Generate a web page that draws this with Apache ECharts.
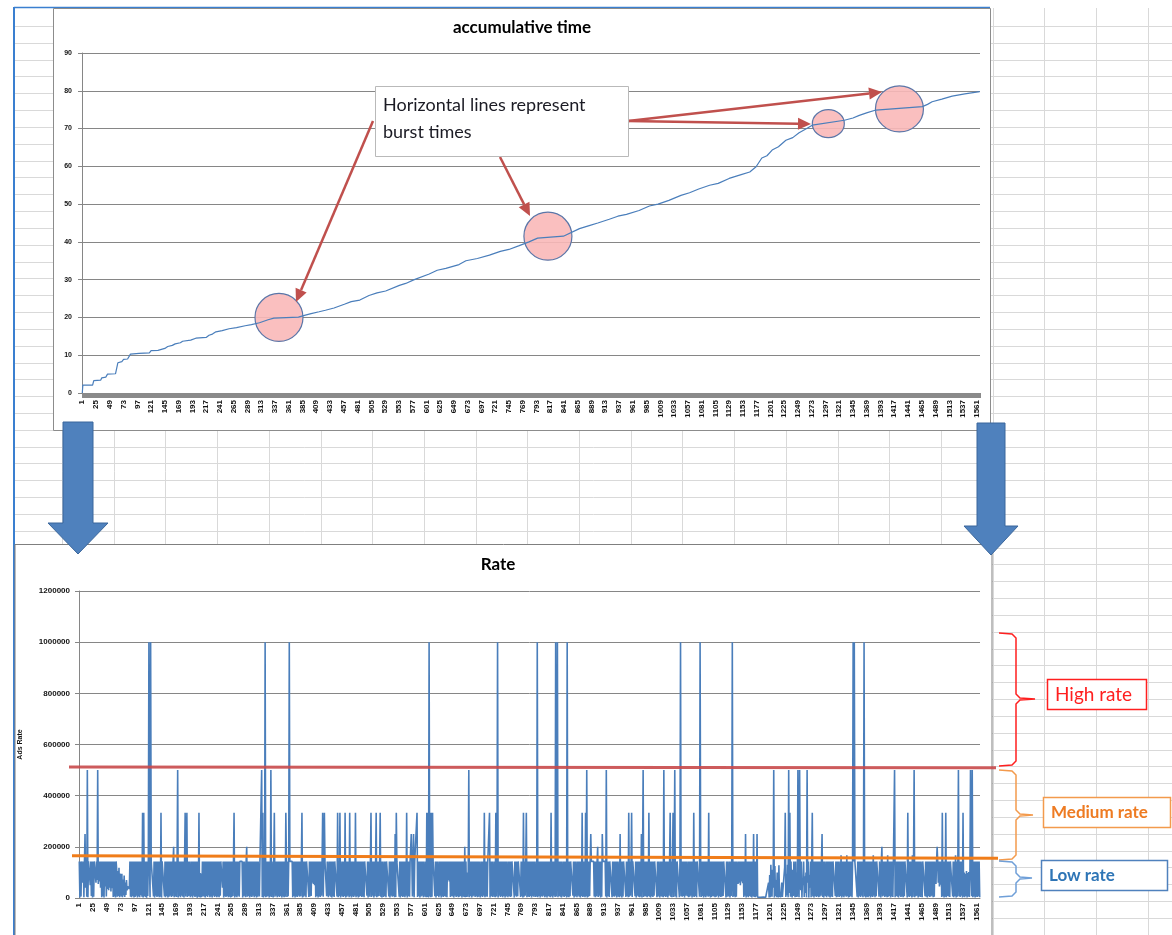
<!DOCTYPE html>
<html>
<head>
<meta charset="utf-8">
<script src="https://cdn.jsdelivr.net/npm/echarts@6/dist/echarts.min.js"></script>
<style>
  html, body { margin: 0; padding: 0; background: #ffffff; }
  #main { width: 1172px; height: 935px; }
</style>
</head>
<body>
<div id="main"></div>
<script>
// Samples 1..N on both category axes
const N = 1566;
const xCategories = Array.from({ length: N }, (_, k) => String(k + 1));

// Accumulated time: breakpoints of the curve (sample number, value)
const cumIdx = [1, 2, 19, 21, 33, 35, 42, 45, 59, 63, 70, 73, 80, 85, 100, 118, 121, 133, 136, 145,
  150, 158, 163, 172, 176, 190, 199, 217, 222, 228, 234, 245, 257, 270, 285, 296, 310, 325, 335, 378,
  390, 400, 414, 425, 440, 458, 470, 485, 501, 515, 530, 554, 565, 580, 606, 620, 635, 658, 670, 690,
  711, 730, 745, 763, 780, 795, 840, 868, 885, 900, 920, 935, 950, 972, 990, 1005, 1024, 1045, 1060, 1076,
  1095, 1110, 1129, 1150, 1165, 1176, 1186, 1195, 1204, 1215, 1228, 1240, 1251, 1262, 1274, 1330, 1345, 1356, 1370, 1385,
  1466, 1475, 1483, 1500, 1518, 1540, 1566];
const cumVal = [0, 2.1, 2.1, 3.3, 3.4, 4.0, 4.2, 5.0, 5.1, 8.0, 8.3, 8.9, 9.0, 10.3, 10.5, 10.6, 11.2, 11.3, 11.7, 11.8,
  12.3, 12.6, 13.0, 13.3, 13.7, 14.0, 14.5, 14.7, 15.3, 15.6, 16.2, 16.5, 17.0, 17.3, 17.8, 18.1, 18.6, 19.4, 19.8, 20.1,
  20.6, 21.0, 21.5, 21.9, 22.5, 23.5, 24.2, 24.6, 25.8, 26.5, 27.0, 28.5, 29.0, 30.0, 31.5, 32.5, 33.0, 34.0, 35.0, 35.6,
  36.5, 37.5, 38.0, 39.0, 40.0, 41.0, 41.5, 43.5, 44.3, 45.0, 46.0, 46.8, 47.3, 48.3, 49.5, 50.0, 51.0, 52.3, 53.0, 54.0,
  55.0, 55.5, 56.8, 57.8, 58.5, 59.9, 62.2, 62.8, 64.3, 65.2, 66.9, 67.6, 68.9, 69.8, 70.9, 72.2, 72.8, 73.5, 74.2, 74.9,
  75.8, 76.4, 77.1, 77.8, 78.6, 79.2, 79.8];

// Ads rate in thousands, 24 samples per row (row k starts at sample 24k+1)
const rateK = [
  143,2,143,6,143,143,60,143,3,143,250,40,143,5,500,3,143,143,143,50,143,8,143,2,
  143,5,143,143,143,60,143,70,500,55,143,65,143,40,143,3,143,7,143,2,143,45,143,6,
  143,35,143,30,143,40,143,25,143,38,143,4,143,6,143,2,143,110,5,105,8,118,3,95,
  80,6,95,3,72,10,88,4,60,12,70,30,45,40,44,35,143,5,143,3,143,8,143,2,
  143,4,143,9,143,2,143,6,143,3,143,11,143,5,333,2,333,7,143,4,143,1,143,8,
  143,1000,143,3,1000,143,143,143,143,6,143,2,143,9,143,4,143,7,143,3,143,5,333,2,
  143,143,143,143,6,143,3,143,8,143,2,143,5,143,9,143,4,143,7,143,200,3,143,6,
  143,4,143,500,2,143,7,143,3,143,9,143,5,143,2,143,333,6,143,333,4,143,8,143,
  143,3,143,7,143,2,143,9,143,4,143,6,143,1,143,5,333,3,98,2,96,4,143,8,
  143,5,143,2,143,8,143,4,143,10,143,3,143,6,143,2,143,9,143,4,143,7,143,3,
  143,6,143,3,143,9,143,143,143,40,143,2,143,7,143,4,143,8,143,3,143,5,143,2,
  143,4,143,8,143,333,2,143,6,143,3,143,9,143,5,143,143,143,143,143,2,143,7,143,
  143,3,143,200,5,143,8,143,2,143,6,143,4,143,9,143,3,143,7,143,2,143,5,143,
  143,6,143,143,143,500,4,333,2,143,7,1000,3,143,5,143,8,143,2,143,6,500,4,143,
  143,2,143,333,5,143,9,143,3,143,7,143,4,143,8,143,2,143,6,143,3,143,5,333,
  143,4,143,7,143,1000,143,143,143,143,143,3,143,8,143,2,143,6,143,4,143,9,143,5,
  143,7,143,333,2,143,5,143,9,143,3,143,143,143,143,4,143,6,143,8,143,60,143,55,
  143,50,143,3,143,8,143,2,143,6,143,4,143,9,143,333,5,143,333,143,143,143,7,143,
  143,3,143,9,143,5,143,2,143,7,143,4,143,143,143,143,6,333,3,143,8,333,2,143,
  143,6,143,4,143,8,333,2,143,5,143,9,143,3,333,7,143,2,143,6,143,4,143,9,
  333,3,143,7,143,2,143,5,143,8,143,4,143,6,143,3,143,143,143,143,9,143,2,143,
  143,5,143,333,4,143,9,143,2,143,7,143,333,3,143,6,143,8,143,333,5,143,2,143,
  143,4,143,8,143,3,143,143,143,143,6,143,2,143,9,143,5,143,7,143,3,250,4,333,
  143,143,143,143,5,143,2,143,8,143,4,143,6,143,3,143,9,333,2,143,7,143,5,143,
  143,250,143,6,143,250,3,143,143,143,143,333,4,143,8,143,2,143,6,143,9,143,3,143,
  143,5,143,3,333,4,333,2,1000,6,333,3,333,5,333,143,143,143,7,143,2,143,8,143,
  143,3,143,9,143,2,143,6,143,4,143,8,143,5,143,3,143,70,143,65,143,4,143,7,
  143,6,143,2,143,9,143,4,143,7,143,3,143,5,143,8,143,2,143,6,143,4,200,3,
  143,4,100,5,95,500,3,143,8,143,2,143,6,143,9,143,4,143,7,143,3,143,5,143,
  143,2,143,7,143,4,143,9,333,3,143,6,143,5,143,143,143,333,2,143,8,143,4,143,
  143,5,143,3,333,6,143,1000,2,143,9,143,4,143,7,143,3,143,8,143,2,143,6,143,
  143,3,143,8,143,4,143,6,143,143,143,143,2,143,9,143,5,143,7,143,143,143,143,4,
  143,7,143,2,333,5,143,9,143,333,3,143,6,143,4,143,8,143,2,143,7,143,5,143,
  143,4,143,6,1000,3,143,8,143,2,143,7,143,5,143,9,143,3,143,6,143,2,143,8,
  143,5,143,3,333,7,143,2,143,9,143,4,1000,6,143,1000,3,143,8,143,5,143,2,143,
  143,6,143,4,143,8,143,2,1000,5,143,3,143,7,143,143,143,143,9,143,2,143,6,143,
  143,3,143,9,143,5,143,2,143,8,333,4,143,6,143,3,333,7,500,2,143,5,143,8,
  143,250,143,143,143,143,143,6,143,3,143,7,143,200,4,143,9,143,2,143,5,250,143,143,
  143,143,143,6,500,2,143,8,143,4,143,143,143,143,3,143,7,143,5,143,9,143,2,143,
  143,5,143,3,250,7,143,2,143,6,143,143,143,143,4,143,8,143,3,333,5,143,9,143,
  333,4,143,143,143,143,7,143,2,143,9,143,5,143,3,143,6,250,2,143,500,4,143,8,
  143,6,143,3,143,8,333,5,143,2,143,7,143,4,143,9,143,143,143,143,3,143,6,143,
  143,2,143,7,143,5,143,3,500,8,143,4,143,6,143,2,143,9,143,333,5,143,3,143,
  333,4,143,500,6,143,2,143,143,143,143,3,143,1000,7,143,5,143,8,143,2,143,9,143,
  143,7,143,3,143,5,143,9,143,2,143,6,333,4,143,8,143,3,143,143,143,143,5,1000,
  143,4,143,8,143,2,143,6,143,3,143,9,143,5,333,7,143,2,143,4,143,8,143,6,
  143,3,143,5,143,9,143,2,143,7,143,4,143,6,143,8,143,143,143,143,2,143,5,143,
  143,6,143,2,143,8,143,1000,4,143,7,143,3,143,5,143,143,55,143,60,143,50,143,65,
  143,58,143,4,143,9,250,2,143,6,143,3,143,8,143,5,143,2,143,7,250,4,143,3,
  143,6,250,3,4,3,5,4,3,4,5,3,4,4,3,5,4,3,4,5,3,4,60,2,
  90,3,130,20,5,110,40,500,2,125,8,70,3,100,30,2,128,5,15,3,2,60,4,3,
  3,2,120,333,4,95,10,130,3,500,20,333,5,143,40,2,110,8,143,60,3,143,4,100,
  5,500,90,3,500,80,30,143,2,75,50,143,4,85,20,100,3,500,60,143,2,90,40,143,
  3,143,333,6,143,2,143,8,143,4,143,7,143,3,143,5,143,9,143,250,4,143,2,143,
  143,7,143,3,143,9,143,5,143,2,143,6,143,4,143,143,143,143,8,143,3,143,5,143,
  143,4,143,8,167,2,143,6,143,3,143,9,143,5,167,7,143,2,143,4,143,8,143,3,
  143,1000,143,1000,143,143,143,143,5,143,2,143,7,143,4,143,9,143,3,143,1000,6,143,2,
  143,5,143,3,143,8,143,2,143,6,143,4,167,9,143,3,143,7,143,143,143,143,5,143,
  143,2,143,200,6,143,9,143,4,143,7,143,3,167,5,143,8,143,2,143,6,143,4,143,
  143,500,3,143,8,143,5,143,2,143,9,143,4,143,6,143,3,143,7,143,143,143,143,2,
  333,6,143,4,143,8,143,2,167,5,143,500,3,143,7,143,9,143,2,143,6,143,4,143,
  143,3,143,143,143,143,7,143,5,143,2,143,8,143,4,143,6,143,9,143,3,143,5,143,
  143,55,143,200,143,60,143,45,143,52,143,4,333,7,143,2,143,5,333,3,143,8,143,6,
  143,4,143,143,143,143,6,143,3,143,8,167,2,143,5,143,500,7,143,4,143,9,143,2,
  333,5,100,3,95,8,105,2,98,6,102,4,97,500,143,7,500,3,143,6,143,2,143,5,
  143,4,143,7,143,3
];

// Bursts circled on the accumulated-time curve (sample number, value)
const burstIdx = [344, 813, 1302, 1426];
const burstVal = [20, 41.5, 71.3, 75.2];

// Rate band boundaries, value at the left and right end of each drawn line
const highBound = [512000, 509000];
const lowBound = [165000, 155000];

const AX_FONT = '"Liberation Sans", "DejaVu Sans", sans-serif';
const TX_FONT = 'Lato, "Open Sans", sans-serif';
const LINE_BLUE = '#4a7ebb';
const AXIS_GRAY = '#868686';

const chart = echarts.init(document.getElementById('main'), null, { renderer: 'canvas' });

const axisLabelStyle = {
  color: '#111',
  fontFamily: AX_FONT,
  fontWeight: 'bold'
};

chart.setOption({
  animation: false,
  backgroundColor: '#ffffff',
  grid: [
    { left: 82, right: 192, top: 53, bottom: 542, outerBoundsMode: 'none', containLabel: false },
    { left: 79, right: 192, top: 591, bottom: 37, outerBoundsMode: 'none', containLabel: false }
  ],
  xAxis: [
    {
      type: 'category', gridIndex: 0, data: xCategories, boundaryGap: true,
      axisLine: { show: true, lineStyle: { color: AXIS_GRAY, width: 1 } },
      axisTick: { show: true, interval: 0, length: 5, lineStyle: { color: '#8a8a8a', width: 1 } },
      axisLabel: Object.assign({ interval: 23, rotate: 90, fontSize: 8, margin: 7 }, axisLabelStyle),
      splitLine: { show: false }
    },
    {
      type: 'category', gridIndex: 1, data: xCategories, boundaryGap: true,
      axisLine: { show: true, lineStyle: { color: AXIS_GRAY, width: 1 } },
      axisTick: { show: false },
      axisLabel: Object.assign({ interval: 23, rotate: 90, fontSize: 8, margin: 5 }, axisLabelStyle),
      splitLine: { show: false }
    }
  ],
  yAxis: [
    {
      type: 'value', gridIndex: 0, min: 0, max: 90, interval: 10,
      axisLine: { show: true, lineStyle: { color: AXIS_GRAY, width: 1 } },
      axisTick: { show: true, length: 4, lineStyle: { color: AXIS_GRAY } },
      splitLine: { show: true, lineStyle: { color: AXIS_GRAY, width: 1 } },
      axisLabel: Object.assign({ fontSize: 7, margin: 10, formatter: v => String(v) }, axisLabelStyle)
    },
    {
      type: 'value', gridIndex: 1, min: 0, max: 1200000, interval: 200000,
      name: 'Ads Rate', nameLocation: 'middle', nameGap: 55, nameRotate: 90,
      nameTextStyle: { fontSize: 7, fontWeight: 'bold', color: '#111', fontFamily: AX_FONT },
      axisLine: { show: true, lineStyle: { color: AXIS_GRAY, width: 1 } },
      axisTick: { show: true, length: 4, lineStyle: { color: AXIS_GRAY } },
      splitLine: { show: true, lineStyle: { color: AXIS_GRAY, width: 1 } },
      axisLabel: Object.assign({ fontSize: 8, margin: 9, formatter: v => String(v) }, axisLabelStyle)
    }
  ],
  series: [
    {
      name: 'accumulative time', type: 'line', xAxisIndex: 0, yAxisIndex: 0,
      data: cumIdx.map((c, k) => [c - 1, cumVal[k]]),
      symbol: 'none', lineStyle: { color: LINE_BLUE, width: 1.2 }, z: 3
    },
    {
      name: 'Rate', type: 'line', xAxisIndex: 1, yAxisIndex: 1,
      data: rateK.map(v => v * 1000),
      symbol: 'none', lineStyle: { color: LINE_BLUE, width: 1.6 }, z: 3
    }
  ]
});

// ---------- decorations ----------
const els = [];
const bg = (o) => { o.silent = true; els.push(o); };

// worksheet cell grid behind the charts
for (let x = 62; x < 1172; x += 51.7) {
  bg({ type: 'line', z: -100, shape: { x1: Math.round(x) + 0.5, y1: 8, x2: Math.round(x) + 0.5, y2: 935 },
       style: { stroke: '#d9d9d9', lineWidth: 1 } });
}
for (let y = 413 - 16.83 * 23; y < 935; y += 16.83) {
  bg({ type: 'line', z: -100, shape: { x1: 15, y1: Math.round(y) + 0.5, x2: 1172, y2: Math.round(y) + 0.5 },
       style: { stroke: '#d9d9d9', lineWidth: 1 } });
}
// sheet frame
bg({ type: 'line', z: -90, shape: { x1: 14, y1: 7, x2: 14, y2: 935 }, style: { stroke: '#3a7fd0', lineWidth: 2 } });
bg({ type: 'line', z: -90, shape: { x1: 14, y1: 7.5, x2: 990, y2: 7.5 }, style: { stroke: '#3a7fd0', lineWidth: 1.5 } });

// chart areas
bg({ type: 'rect', z: -50, shape: { x: 53.5, y: 8.5, width: 937, height: 422 },
     style: { fill: '#ffffff', stroke: '#8c8c8c', lineWidth: 1 } });
bg({ type: 'rect', z: -50, shape: { x: 15, y: 544.5, width: 977, height: 400 },
     style: { fill: '#ffffff', stroke: '#7f7f7f', lineWidth: 1 } });

// chart titles
bg({ type: 'text', z: 5, x: 522, y: 28,
     style: { text: 'accumulative time', font: 'bold 17px ' + TX_FONT, fill: '#000', align: 'center', verticalAlign: 'middle' } });
bg({ type: 'text', z: 5, x: 498, y: 565,
     style: { text: 'Rate', font: 'bold 17px ' + TX_FONT, fill: '#000', align: 'center', verticalAlign: 'middle' } });

// burst circles, centred on the curve
const circR = [[24, 24], [24, 24], [16, 14], [24, 23]];
burstIdx.forEach((c, k) => {
  const p = chart.convertToPixel({ xAxisIndex: 0, yAxisIndex: 0 }, [c - 1, burstVal[k]]);
  bg({ type: 'ellipse', z: 1, shape: { cx: p[0], cy: p[1], rx: circR[k][0], ry: circR[k][1] },
       style: { fill: 'rgba(250,184,184,0.9)', stroke: '#5b76a8', lineWidth: 1.2 } });
});

// callout box
bg({ type: 'rect', z: 15, shape: { x: 375.5, y: 86.5, width: 253, height: 70 },
     style: { fill: '#ffffff', stroke: '#b9b9b9', lineWidth: 1 } });
bg({ type: 'text', z: 16, x: 383, y: 105,
     style: { text: 'Horizontal lines represent', font: '18px ' + TX_FONT, fill: '#1b1b24', align: 'left', verticalAlign: 'middle' } });
bg({ type: 'text', z: 16, x: 383, y: 132,
     style: { text: 'burst times', font: '18px ' + TX_FONT, fill: '#1b1b24', align: 'left', verticalAlign: 'middle' } });

// arrow helper: shaft plus triangular head at (x2, y2)
function arrow(x1, y1, x2, y2, color, width, headLen, headHalf, z) {
  const a = Math.atan2(y2 - y1, x2 - x1);
  const bx = x2 - headLen * Math.cos(a), by = y2 - headLen * Math.sin(a);
  const nx = -Math.sin(a) * headHalf, ny = Math.cos(a) * headHalf;
  bg({ type: 'line', z, shape: { x1, y1, x2: bx, y2: by }, style: { stroke: color, lineWidth: width } });
  bg({ type: 'polygon', z, shape: { points: [[x2, y2], [bx + nx, by + ny], [bx - nx, by - ny]] },
       style: { fill: color } });
}
const RED = '#c0504d';
arrow(373, 121, 296, 302, RED, 2.5, 13, 6, 14);
arrow(500, 157, 530, 216, RED, 2.5, 13, 6, 14);
arrow(628, 121, 811, 124, RED, 2.5, 13, 6, 14);
arrow(628, 121, 882, 92, RED, 2.5, 13, 6, 14);

// big block arrows linking the two charts
const blockArrow = (cx, top, neck, tip, halfShaft, halfHead) => bg({
  type: 'polygon', z: 20,
  shape: { points: [[cx - halfShaft, top], [cx + halfShaft, top], [cx + halfShaft, neck], [cx + halfHead, neck],
                    [cx, tip], [cx - halfHead, neck], [cx - halfShaft, neck]] },
  style: { fill: '#4f81bd', stroke: '#3b679c', lineWidth: 1 }
});
blockArrow(78, 422, 523, 554, 15, 30);
blockArrow(991, 423, 526, 555, 14, 27);

// rate band boundary lines
const yHi = highBound.map(v => chart.convertToPixel({ xAxisIndex: 1, yAxisIndex: 1 }, [0, v])[1]);
const yLo = lowBound.map(v => chart.convertToPixel({ xAxisIndex: 1, yAxisIndex: 1 }, [0, v])[1]);
bg({ type: 'line', z: 10, shape: { x1: 69, y1: yHi[0], x2: 996, y2: yHi[1] },
     style: { stroke: '#c8494a', lineWidth: 3, opacity: 0.9 } });
bg({ type: 'line', z: 10, shape: { x1: 72, y1: yLo[0], x2: 998, y2: yLo[1] },
     style: { stroke: '#f07d1a', lineWidth: 3 } });

// braces and their labels
function brace(top, bottom, tipX, tipY, color) {
  bg({ type: 'polyline', z: 10,
       shape: { points: [[999, top], [1012, top + 1], [1016, top + 5], [1016, tipY - 5], [1020, tipY - 1], [tipX, tipY],
                         [1020, tipY + 1], [1016, tipY + 5], [1016, bottom - 5], [1012, bottom - 1], [999, bottom]] },
       style: { stroke: color, lineWidth: 1.5, fill: null } });
}
brace(633, 766, 1035, 699, '#ff1f1f');
brace(770, 860, 1033, 815, '#f39a4c');
brace(861, 897, 1032, 878, '#6f9fd8');

function tagBox(x, y, w, h, text, color, textColor, font) {
  bg({ type: 'rect', z: 10, shape: { x: x + 0.5, y: y + 0.5, width: w, height: h },
       style: { fill: '#ffffff', stroke: color, lineWidth: 1.5 } });
  bg({ type: 'text', z: 11, x: x + 8, y: y + h / 2 + 1,
       style: { text, font, fill: textColor, align: 'left', verticalAlign: 'middle' } });
}
tagBox(1047, 679, 99, 30, 'High rate', '#ff1f1f', '#ff1f1f', '19px ' + TX_FONT);
tagBox(1043, 797, 127, 30, 'Medium rate', '#f39a4c', '#ee7b22', 'bold 17px ' + TX_FONT);
tagBox(1041, 860, 126, 30, 'Low rate', '#4f81bd', '#2e75b6', 'bold 17px ' + TX_FONT);

chart.setOption({ graphic: { elements: els } });
</script>
</body>
</html>
